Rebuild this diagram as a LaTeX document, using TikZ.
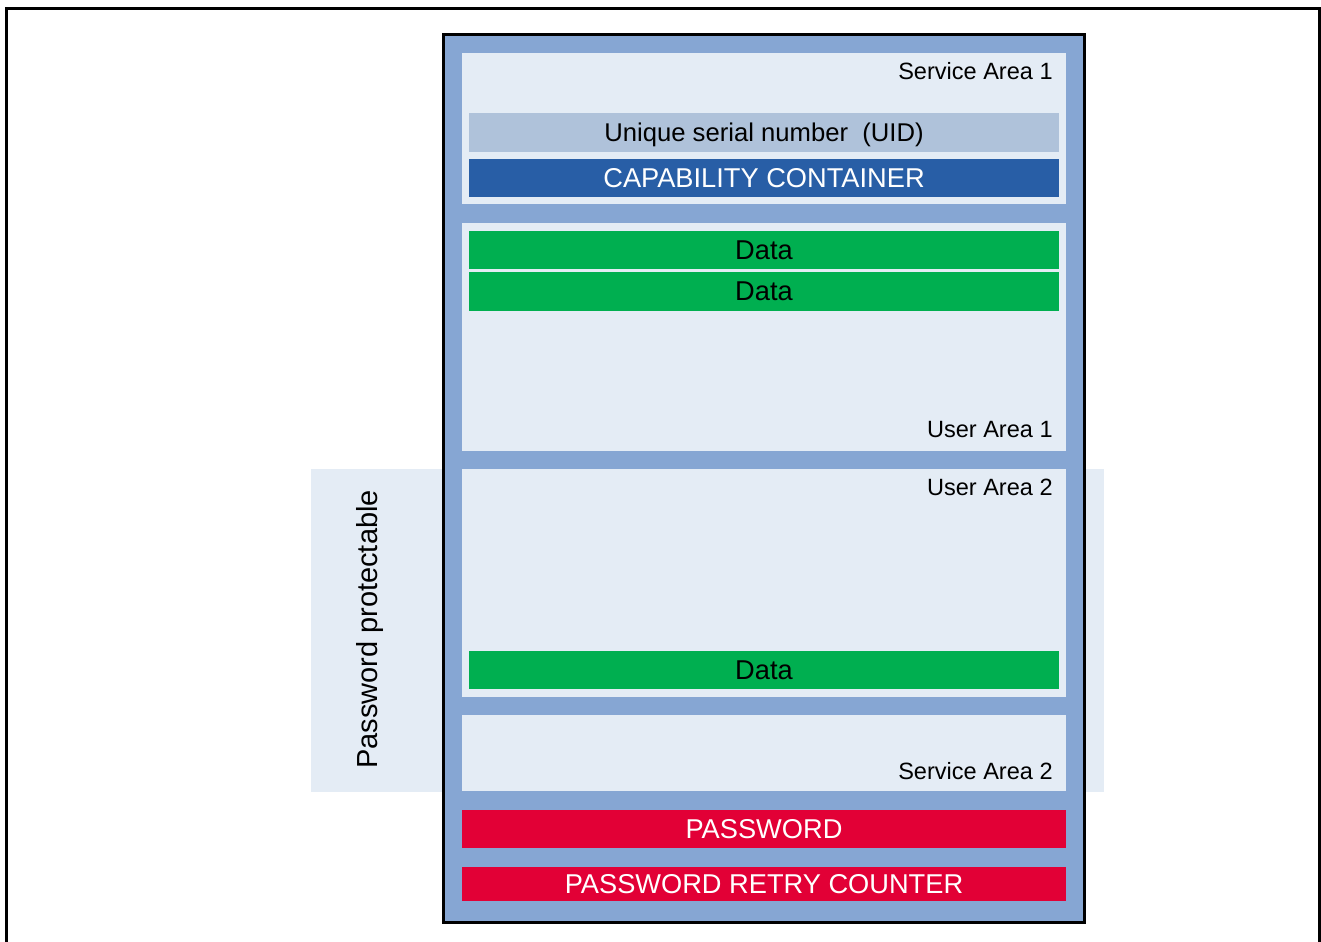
\documentclass[tikz,border=0pt]{standalone}
\usepackage{fontspec}
\setmainfont{Liberation Sans}
\usepackage{xcolor}
\definecolor{frameblue}{HTML}{86A6D3}
\definecolor{areagrey}{HTML}{E4ECF5}
\definecolor{uidblue}{HTML}{AFC2DA}
\definecolor{ccblue}{HTML}{285EA6}
\definecolor{datagreen}{HTML}{00AF50}
\definecolor{pwred}{HTML}{E20036}
\newcommand{\pix}{0.02cm}

\begin{document}
\begin{tikzpicture}
  [x=0.02cm,y=-0.02cm,
   box/.style={rectangle, inner sep=0pt, outer sep=0pt},
   area/.style={box, fill=areagrey, minimum width=604*\pix},
   bar/.style={box, minimum width=590*\pix, minimum height=38*\pix, text depth=0pt, font=\fontsize{15.5}{18}\selectfont},
   tag/.style={anchor=base east, inner sep=0pt, font=\fontsize{13.4}{16}\selectfont}]
  \useasboundingbox (0,0) rectangle (1321,942);
  \draw [line width=3*\pix] (6.5,942) -- (6.5,8.5) -- (1319,8.5) -- (1319,942);

  % password protectable band, behind the memory
  \node [box, fill=areagrey, minimum width=793*\pix, minimum height=322.5*\pix] (PP) at (707.5,630.25) {};
  \node [rotate=90, anchor=base, inner sep=0pt, font=\fontsize{16.5}{19}\selectfont] (PPlabel) at (377,629.5) {Password protectable};

  % memory
  \node [box, draw=black, line width=3*\pix, fill=frameblue, minimum width=641*\pix, minimum height=888*\pix] (MEM) at (764,478.5) {};

  \node [area, minimum height=151*\pix] (SA1) at (764,128.5) {};
  \node [area, minimum height=228*\pix] (UA1) at (764,337) {};
  \node [area, minimum height=228*\pix] (UA2) at (764,583) {};
  \node [area, minimum height=76*\pix] (SA2) at (764,753) {};

  \node [bar, fill=uidblue, minimum height=39*\pix, font=\fontsize{14.6}{18}\selectfont] (UID) at (764,132.5) {Unique serial number\ \ (UID)};
  \node [bar, fill=ccblue, text=white] (CC) at (764,178) {CAPABILITY CONTAINER};
  \node [bar, fill=datagreen] (D1) at (764,250) {Data};
  \node [bar, fill=datagreen, minimum height=39*\pix] (D2) at (764,291.5) {Data};
  \node [bar, fill=datagreen] (D3) at (764,670) {Data};

  \node [bar, fill=pwred, text=white, minimum width=604*\pix] (PW) at (764,829) {PASSWORD};
  \node [bar, fill=pwred, text=white, minimum width=604*\pix, minimum height=34*\pix] (PRC) at (764,884) {PASSWORD RETRY COUNTER};

  \node [tag] (SA1label) at (1053,79.5) {Service Area 1};
  \node [tag] (UA1label) at (1053,437) {User Area 1};
  \node [tag] (UA2label) at (1053,495.5) {User Area 2};
  \node [tag] (SA2label) at (1053,779) {Service Area 2};
\end{tikzpicture}
\end{document}
